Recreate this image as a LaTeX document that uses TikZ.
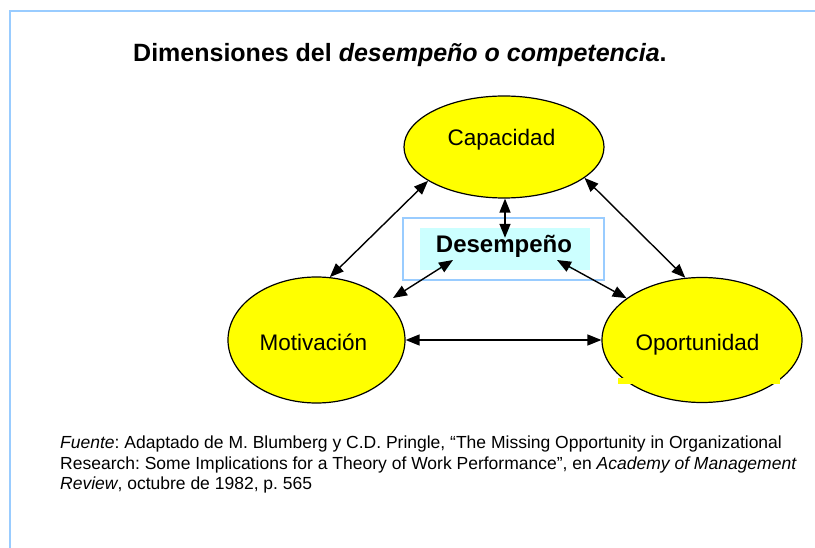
\documentclass[tikz,border=0pt]{standalone}
\usepackage{fontspec}
\setmainfont{Liberation Sans}
\usetikzlibrary{arrows.meta,shapes.geometric,calc}
\definecolor{framblue}{RGB}{153,204,255}
\definecolor{lightcyan}{RGB}{204,255,255}
\definecolor{yel}{RGB}{255,255,0}
\frenchspacing
\begin{document}
\begin{tikzpicture}[x=1pt,y=-1pt,
  ell/.style={ellipse, draw=black, line width=1.2pt, fill=yel, inner sep=0pt},
  lbl/.style={anchor=base, font=\fontsize{22.5}{26}\selectfont, inner sep=0pt},
  srcline/.style={anchor=base west, font=\fontsize{17.5}{21}\selectfont, inner sep=0pt},
  dbl/.style={{Triangle[length=14pt,width=11pt]}-{Triangle[length=14pt,width=11pt]}, line width=1.4pt},
]
\useasboundingbox (0,0) rectangle (815,548);
\fill[white] (0,0) rectangle (815,548);
\draw[framblue, line width=1.5pt] (10,548) -- (10,11) -- (815,11);

\node[anchor=base west, inner sep=0pt, font=\bfseries\fontsize{25}{30}\selectfont] (title) at (133,62)
  {Dimensiones del \textit{desempeño o competencia}.};

% ellipses
\node[ell, minimum width=200pt, minimum height=102pt] (cap) at (504,147) {};
\node[ell, minimum width=177pt, minimum height=126pt] (mot) at (316.5,340) {};
\node[ell, minimum width=200pt, minimum height=125pt] (opp) at (702,340) {};
\fill[yel] (618,378) rectangle (780,384);

\node[lbl] (capt) at (501.5,146) {Capacidad};
\node[lbl] (mott) at (313.5,351) {Motivación};
\node[lbl] (oppt) at (697.5,351) {Oportunidad};

% Desempeño box
\node[draw=framblue, line width=1.5pt, minimum width=201pt, minimum height=62pt, inner sep=0pt] (desframe) at (503.5,249) {};
\node[fill=lightcyan, minimum width=170pt, minimum height=42pt, inner sep=0pt] (desfill) at (505,249) {};
\node[anchor=base, inner sep=0pt, font=\bfseries\fontsize{24}{28}\selectfont] (des) at (504,253) {Desempeño};

% connectors
\draw[dbl] (cap.204.7) -- (mot.78);
\draw[dbl] (cap.339.5) -- (opp.105);
\draw[dbl] (cap.south -| desfill.center) -- ($(desfill.north)+(0,10)$);
\draw[dbl] ($(desfill.center)+(-52,11)$) -- ($(mot.center)+(76.5,-42)$);
\draw[dbl] ($(desfill.center)+(52,11)$) -- (opp.151);
\draw[dbl] (mot.east) -- (opp.west);

% source
\node[srcline] (src1) at (60,448) {\textit{Fuente}: Adaptado de M. Blumberg y C.D. Pringle, “The Missing Opportunity in Organizational};
\node[srcline] (src2) at (60,469) {Research: Some Implications for a Theory of Work Performance”, en \textit{Academy of Management}};
\node[srcline] (src3) at (60,489.5) {\textit{Review}, octubre de 1982, p. 565};
\end{tikzpicture}
\end{document}
